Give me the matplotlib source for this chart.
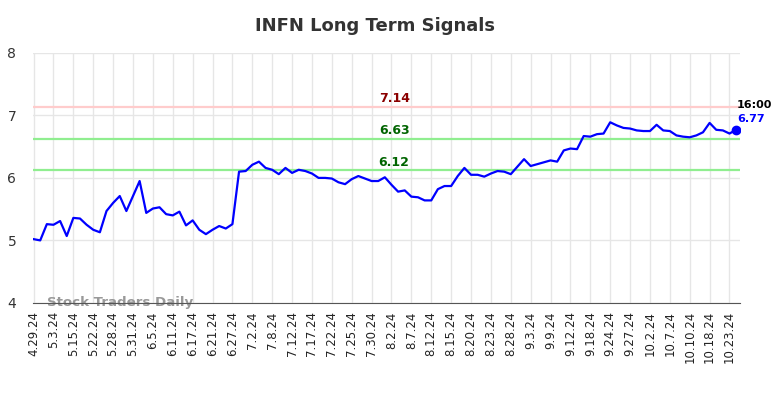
import matplotlib
matplotlib.use('Agg')
import matplotlib.pyplot as plt

# 終値（読み取り値）
prices = [
    5.02, 5.00, 5.26, 5.25, 5.31, 5.07, 5.36, 5.35, 5.25, 5.17,
    5.13, 5.47, 5.60, 5.71, 5.47, 5.71, 5.95, 5.44, 5.51, 5.53,
    5.42, 5.40, 5.46, 5.24, 5.32, 5.17, 5.10, 5.17, 5.23, 5.19,
    5.26, 6.10, 6.11, 6.21, 6.26, 6.16, 6.13, 6.06, 6.16, 6.08,
    6.13, 6.11, 6.07, 6.00, 6.00, 5.99, 5.93, 5.90, 5.98, 6.03,
    5.99, 5.95, 5.95, 6.01, 5.89, 5.78, 5.80, 5.70, 5.69, 5.64,
    5.64, 5.82, 5.87, 5.87, 6.03, 6.16, 6.05, 6.05, 6.02, 6.07,
    6.11, 6.10, 6.06, 6.18, 6.30, 6.19, 6.22, 6.25, 6.28, 6.26,
    6.44, 6.47, 6.46, 6.67, 6.66, 6.70, 6.71, 6.89, 6.84, 6.80,
    6.79, 6.76, 6.75, 6.75, 6.85, 6.76, 6.75, 6.68, 6.66, 6.65,
    6.68, 6.73, 6.88, 6.77, 6.76, 6.71, 6.77,
]

# 3点ごとの目盛りラベル
tick_labels = [
    '4.29.24', '5.3.24', '5.15.24', '5.22.24', '5.28.24', '5.31.24',
    '6.5.24', '6.11.24', '6.17.24', '6.21.24', '6.27.24', '7.2.24',
    '7.8.24', '7.12.24', '7.17.24', '7.22.24', '7.25.24', '7.30.24',
    '8.2.24', '8.7.24', '8.12.24', '8.15.24', '8.20.24', '8.23.24',
    '8.28.24', '9.3.24', '9.9.24', '9.12.24', '9.18.24', '9.24.24',
    '9.27.24', '10.2.24', '10.7.24', '10.10.24', '10.18.24', '10.23.24',
]

# シグナル水準
levels = [7.14, 6.63, 6.12]
level_colors = ['#ffcccc', '#90ee90', '#90ee90']
label_colors = ['#8b0000', '#006400', '#006400']

last_label = '6.77'
last_time = '16:00'

fig = plt.figure(figsize=(7.84, 3.98), dpi=100)
ax = fig.add_axes([0.042, 0.239, 0.902, 0.628])

x = list(range(len(prices)))
ax.plot(x, prices, color='#0000ff', linewidth=1.6, zorder=3)
ax.plot(x[-1], prices[-1], 'o', color='#0000ff', markersize=6, zorder=4)

for lv, lc, tc in zip(levels, level_colors, label_colors):
    ax.axhline(lv, color=lc, linewidth=1.6, zorder=2)
    ax.text(54.4, lv + 0.13, f'{lv:.2f}', color=tc, fontsize=9,
            fontweight='bold', ha='center', va='center')

ax.text(x[-1] + 0.1, prices[-1] + 0.39, last_time, fontsize=8,
        fontweight='bold', color='black', ha='left', va='center')
ax.text(x[-1] + 0.1, prices[-1] + 0.18, last_label, fontsize=8,
        fontweight='bold', color='#0000ff', ha='left', va='center')

ax.text(2, 4.0, 'Stock Traders Daily', fontsize=9.6, fontweight='bold',
        color='#999999', ha='left', va='center', zorder=1)

ax.set_xlim(-0.1, 106.6)
ax.set_ylim(4, 8)
ax.set_yticks([4, 5, 6, 7, 8])
ax.set_xticks(list(range(0, len(prices), 3)))
ax.set_xticklabels(tick_labels, rotation=90, fontsize=8.5, color='#222222')
ax.tick_params(axis='y', labelsize=10, colors='#333333', length=0, pad=12)
ax.tick_params(axis='x', length=0, pad=6)
ax.grid(True, color='#e6e6e6', linewidth=1)
ax.set_axisbelow(True)
for s in ['top', 'right', 'left']:
    ax.spines[s].set_visible(False)
ax.spines['bottom'].set_color('#555555')

fig.text(375 / 784, 1 - 26 / 398, 'INFN Long Term Signals', fontsize=13,
         fontweight='bold', color='#333333', ha='center', va='center')

fig.savefig('out.png', dpi=100)
